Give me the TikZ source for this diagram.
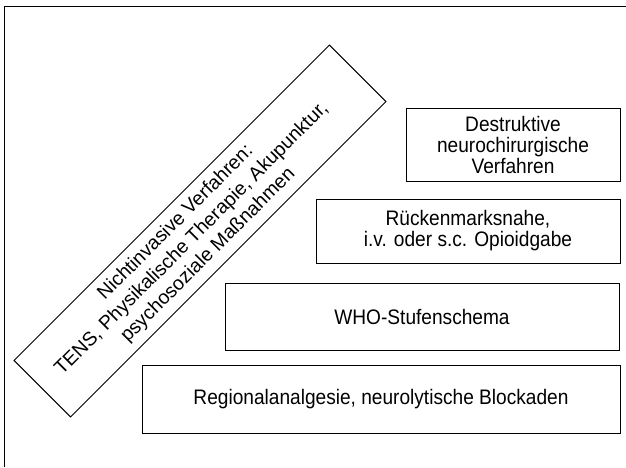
\documentclass[tikz,border=0pt]{standalone}
\usepackage{fontspec}
\setmainfont{Liberation Sans}
\newfontfamily\schmal[FakeStretch=0.91]{Liberation Sans}
\usetikzlibrary{math,calc}

\tikzset{
  kasten/.style={draw, line width=0.9pt, align=center, inner sep=2pt,
    font=\schmal\fontsize{21}{21}\selectfont},
  schraeg/.style={align=center, rotate=45, font=\fontsize{19.5}{23}\selectfont},
}

\begin{document}
\begin{tikzpicture}[x=1pt,y=1pt]
\tikzmath{
\W=626;
\H=467;
}
\useasboundingbox (0,0) rectangle (\W,\H);

 %frame:
 \draw[line width=0.9pt] (4,0) -- (4,461) -- (\W,461);

 %steps:
 \node[kasten, minimum width=478, minimum height=68] (regional) at (381,68)
   {Regionalanalgesie, neurolytische Blockaden};
 \node[kasten, minimum width=394, minimum height=67] (who) at (422,150.5)
   {WHO-Stufenschema};
 \node[kasten, minimum width=304, minimum height=64] (rueck) at (468,236)
   {Rückenmarksnahe,\\i.v. oder s.c. Opioidgabe};
 \node[kasten, minimum width=214, minimum height=73] (destr) at (513,322.5)
   {Destruktive\\neurochirurgische\\Verfahren};

 %tilted box:
 \node[kasten, rotate=45, minimum width=446, minimum height=80] (nichtinv) at (200,236) {};
 \node[schraeg] (nichtinvtext) at ($(nichtinv.center)+(-8,-8)$)
   {Nichtinvasive Verfahren:\\TENS, Physikalische Therapie, Akupunktur,\\psychosoziale Maßnahmen};

\end{tikzpicture}
\end{document}
